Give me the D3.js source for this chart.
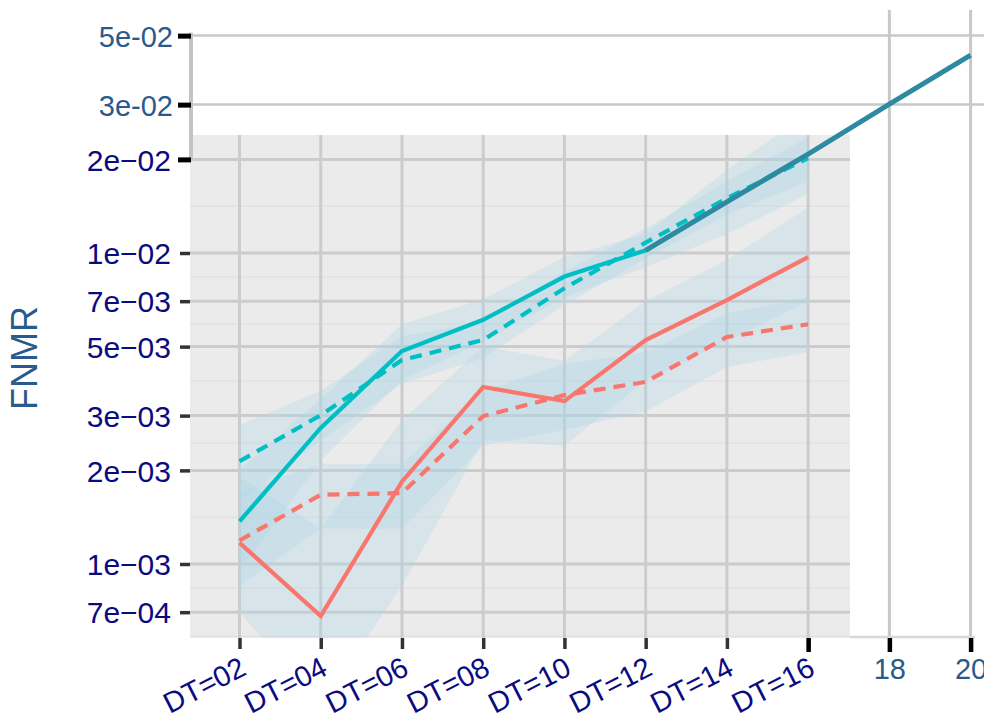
<!DOCTYPE html>
<html><head><meta charset="utf-8">
<script src="https://cdn.jsdelivr.net/npm/d3@7"></script>
<style>body{margin:0;background:#fff}svg{display:block}text{font-family:"Liberation Sans",Arial,sans-serif}</style>
</head><body>
<svg id="c" width="984" height="722"></svg>
<script>
// ---- data ----
const dtVals = [2, 4, 6, 8, 10, 12, 14, 16];
const dtLabels = ["DT=02", "DT=04", "DT=06", "DT=08", "DT=10", "DT=12", "DT=14", "DT=16"];
const cyanSolid = [1.37e-3, 2.74e-3, 4.84e-3, 6.1e-3, 8.4e-3, 1.02e-2, 1.46e-2, 2.08e-2];
const cyanDash = [2.14e-3, 3.01e-3, 4.53e-3, 5.25e-3, 7.7e-3, 1.08e-2, 1.5e-2, 2.02e-2];
const salmonSolid = [1.17e-3, 6.8e-4, 1.84e-3, 3.71e-3, 3.34e-3, 5.25e-3, 7.06e-3, 9.7e-3];
const salmonDash = [1.19e-3, 1.67e-3, 1.69e-3, 2.99e-3, 3.49e-3, 3.85e-3, 5.37e-3, 5.9e-3];
const cyanSolidLo = [0.95e-3, 2.15e-3, 3.9e-3, 5.2e-3, 7.2e-3, 9.0e-3, 1.15e-2, 1.55e-2];
const cyanSolidHi = [2.0e-3, 3.4e-3, 5.9e-3, 7.1e-3, 9.7e-3, 1.15e-2, 1.85e-2, 2.8e-2];
const cyanDashLo = [1.6e-3, 2.5e-3, 3.8e-3, 4.6e-3, 6.8e-3, 9.6e-3, 1.33e-2, 1.7e-2];
const cyanDashHi = [2.8e-3, 3.6e-3, 5.4e-3, 6.0e-3, 8.7e-3, 1.2e-2, 1.7e-2, 2.35e-2];
const salmonSolidLo = [0.7e-3, 0.35e-3, 0.85e-3, 2.5e-3, 2.4e-3, 3.9e-3, 5.2e-3, 7.0e-3];
const salmonSolidHi = [1.9e-3, 1.3e-3, 2.9e-3, 5.0e-3, 4.5e-3, 7.0e-3, 9.5e-3, 1.4e-2];
const salmonDashLo = [0.85e-3, 1.3e-3, 1.3e-3, 2.4e-3, 2.7e-3, 3.1e-3, 4.3e-3, 4.8e-3];
const salmonDashHi = [1.7e-3, 2.1e-3, 2.1e-3, 3.6e-3, 4.4e-3, 4.8e-3, 6.4e-3, 7.2e-3];
const overlayX = [12, 14, 16, 18, 20];
const overlayVals = [1.02e-2, 1.46e-2, 2.08e-2, 3.01e-2, 4.33e-2];
const yTicks = [7e-4, 1e-3, 2e-3, 3e-3, 5e-3, 7e-3, 1e-2, 2e-2];
const yTickLabels = ["7e\u221204", "1e\u221203", "2e\u221203", "3e\u221203", "5e\u221203", "7e\u221203", "1e\u221202", "2e\u221202"];
const overlayYTicks = [2e-2, 3e-2, 5e-2];
const overlayYLabels = ["", "3e-02", "5e-02"];
const overlayXTicks = [16, 18, 20];
const overlayXLabels = ["", "18", "20"];

// ---- layout ----
const svg = d3.select("#c");
const P = {l: 190, r: 850, t: 135, b: 638};
const x = d3.scaleLinear().domain([2, 20]).range([239.5, 970.6]);
const y = d3.scaleLog().domain([1e-3, 1e-2]).range([564, 253]);
const navy = "#0b0b80", steel = "#2a5a8c";

svg.append("rect").attr("width", 984).attr("height", 722).attr("fill", "#fff");

// overlay grid
svg.append("g").selectAll("line").data([3e-2, 5e-2]).join("line")
  .attr("x1", 193).attr("x2", 984).attr("y1", d => y(d)).attr("y2", d => y(d))
  .attr("stroke", "#c8c8c8").attr("stroke-width", 2.5);
svg.append("g").selectAll("line").data([18, 20]).join("line")
  .attr("x1", d => x(d)).attr("x2", d => x(d)).attr("y1", 10).attr("y2", 637)
  .attr("stroke", "#c8c8c8").attr("stroke-width", 3);
svg.append("line").attr("x1", P.r).attr("x2", 975).attr("y1", 637).attr("y2", 637)
  .attr("stroke", "#d8d8d8").attr("stroke-width", 2.5);

// panel
svg.append("rect").attr("x", P.l).attr("y", P.t).attr("width", P.r - P.l).attr("height", P.b - P.t).attr("fill", "#ebebeb");
svg.append("defs").append("clipPath").attr("id", "clip").append("rect")
  .attr("x", P.l).attr("y", P.t).attr("width", P.r - P.l).attr("height", P.b - P.t);

// minor grid (log midpoints)
const minor = [];
for (let i = 0; i < yTicks.length - 1; i++) minor.push(Math.sqrt(yTicks[i] * yTicks[i + 1]));
minor.push(yTicks[0] * yTicks[0] / Math.sqrt(yTicks[0] * yTicks[1]));
const pg = svg.append("g").attr("clip-path", "url(#clip)");
pg.selectAll("line.mn").data(minor).join("line").attr("class", "mn")
  .attr("x1", P.l).attr("x2", P.r).attr("y1", d => y(d)).attr("y2", d => y(d))
  .attr("stroke", "#e2e2e2").attr("stroke-width", 1.5);
pg.selectAll("line.mh").data(yTicks).join("line").attr("class", "mh")
  .attr("x1", P.l).attr("x2", P.r).attr("y1", d => y(d)).attr("y2", d => y(d))
  .attr("stroke", "#cccccc").attr("stroke-width", 3);
pg.selectAll("line.mv").data(dtVals).join("line").attr("class", "mv")
  .attr("x1", d => x(d)).attr("x2", d => x(d)).attr("y1", P.t).attr("y2", P.b)
  .attr("stroke", "#cccccc").attr("stroke-width", 3);

// ribbons
const area = d3.area().x(d => x(d[0])).y0(d => y(d[1])).y1(d => y(d[2]));
[[cyanSolidLo, cyanSolidHi], [cyanDashLo, cyanDashHi], [salmonSolidLo, salmonSolidHi], [salmonDashLo, salmonDashHi]]
  .forEach(([lo, hi]) => {
    pg.append("path").attr("d", area(dtVals.map((v, i) => [v, lo[i], hi[i]])))
      .attr("fill", "#add8e6").attr("fill-opacity", 0.32);
  });

// lines
const line = d3.line().x(d => x(d[0])).y(d => y(d[1]));
const series = [
  [cyanSolid, "#00bfc4", null], [cyanDash, "#00bfc4", "12,8"],
  [salmonSolid, "#f8766d", null], [salmonDash, "#f8766d", "12,8"]
];
series.forEach(([vals, col, dash]) => {
  pg.append("path").attr("d", line(dtVals.map((v, i) => [v, vals[i]])))
    .attr("fill", "none").attr("stroke", col).attr("stroke-width", 4.2)
    .attr("stroke-dasharray", dash);
});

// overlay line
svg.append("path").attr("d", line(overlayX.map((v, i) => [v, overlayVals[i]])))
  .attr("fill", "none").attr("stroke", "#2e8aa1").attr("stroke-width", 5);

// ggplot y axis
const ay = svg.append("g").attr("transform", `translate(${P.l},0)`)
  .call(d3.axisLeft(y).tickValues(yTicks).tickFormat((d, i) => yTickLabels[i]).tickSize(10).tickPadding(9));
ay.select(".domain").remove();
ay.selectAll(".tick line").attr("stroke", "#333").attr("stroke-width", 3.5);
ay.selectAll(".tick text").attr("fill", navy).style("font-size", "30px").attr("dy", "0.36em");

// overlay y axis
svg.append("line").attr("x1", 191).attr("x2", 191).attr("y1", y(5e-2) - 3).attr("y2", y(2e-2) + 1)
  .attr("stroke", "#c4c4c4").attr("stroke-width", 4);
const oy = svg.append("g").attr("transform", "translate(191,0)")
  .call(d3.axisLeft(y).tickValues(overlayYTicks).tickFormat((d, i) => overlayYLabels[i]).tickSize(13).tickPadding(5));
oy.select(".domain").remove();
oy.selectAll(".tick line").attr("stroke", "#000").attr("stroke-width", 5);
oy.selectAll(".tick text").attr("fill", steel).style("font-size", "29px").attr("dy", "0.36em");

// ggplot x axis
const ax = svg.append("g").attr("transform", `translate(0,${P.b})`)
  .call(d3.axisBottom(x).tickValues(dtVals).tickFormat((d, i) => dtLabels[i]).tickSize(11).tickPadding(0));
ax.select(".domain").remove();
ax.selectAll(".tick line").attr("stroke", "#333").attr("stroke-width", 3.5);
ax.selectAll(".tick text").attr("fill", navy).style("font-size", "29px")
  .attr("text-anchor", "end").attr("y", 0).attr("dy", 0)
  .attr("transform", "translate(8,36) rotate(-27)");

// overlay x axis
const ox = svg.append("g").attr("transform", `translate(0,${P.b})`)
  .call(d3.axisBottom(x).tickValues(overlayXTicks).tickFormat((d, i) => overlayXLabels[i]).tickSize(14).tickPadding(0));
ox.select(".domain").remove();
ox.selectAll(".tick line").attr("stroke", "#000").attr("stroke-width", 4.5);
ox.selectAll(".tick text").attr("fill", steel).style("font-size", "29px").attr("y", 41).attr("dy", 0);

// y title
svg.append("text").attr("transform", "translate(37,358) rotate(-90)").attr("text-anchor", "middle")
  .attr("fill", steel).style("font-size", "36px").text("FNMR");
</script>
</body></html>
